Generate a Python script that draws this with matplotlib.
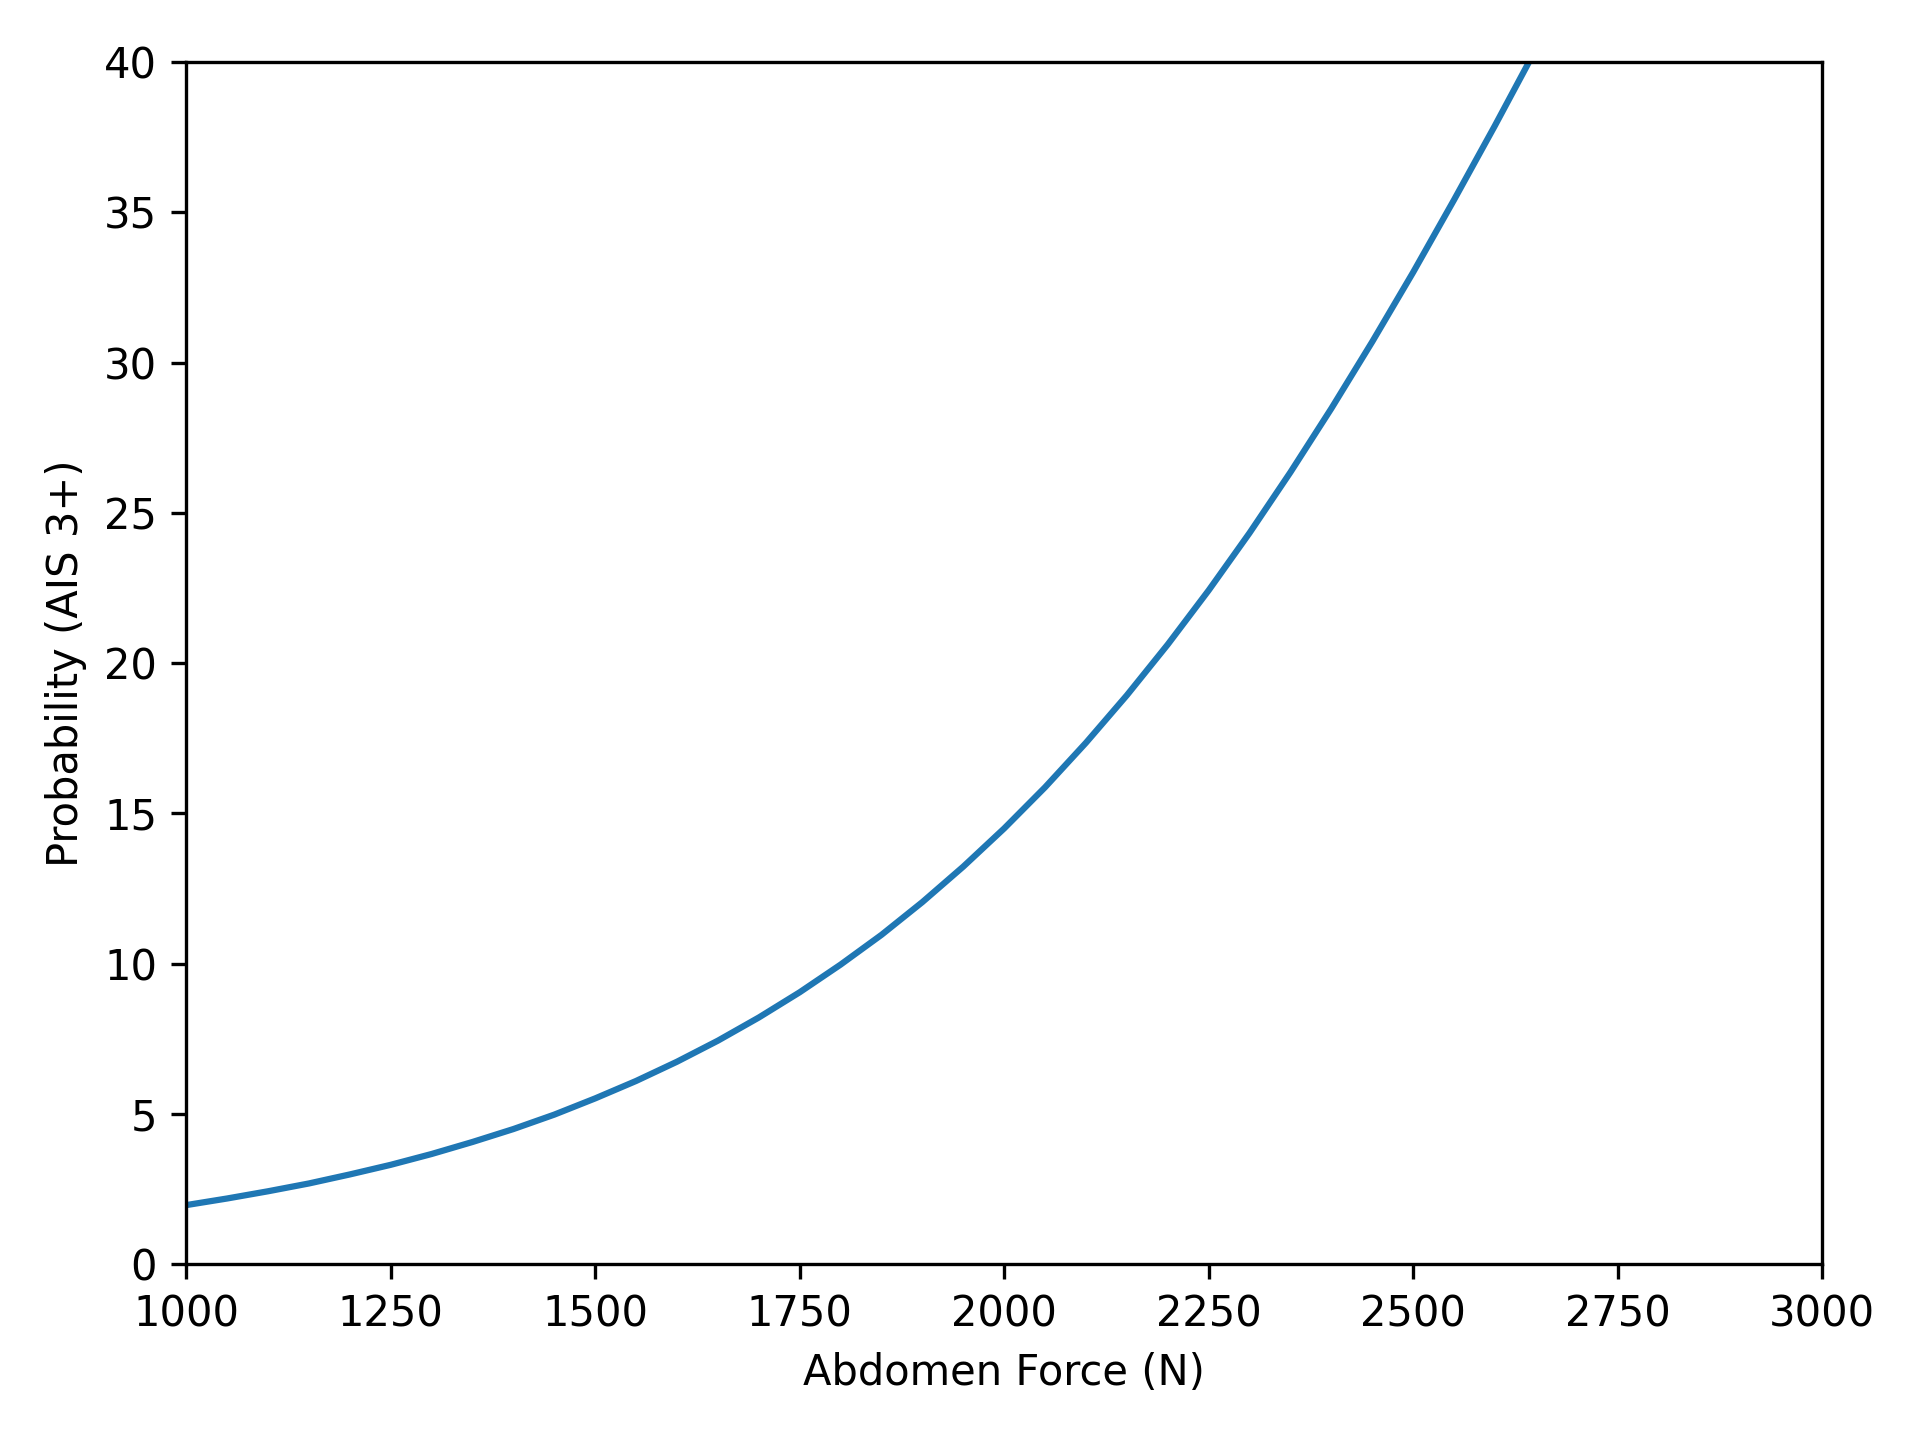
import matplotlib
matplotlib.use('Agg')
import matplotlib.pyplot as plt

# values
force = [1000, 1050, 1100, 1150, 1200, 1250, 1300, 1350, 1400, 1450, 1500,
         1550, 1600, 1650, 1700, 1750, 1800, 1850, 1900, 1950, 2000,
         2050, 2100, 2150, 2200, 2250, 2300, 2350, 2400, 2450, 2500,
         2550, 2600, 2650, 2700]
prob = [1.97, 2.19, 2.43, 2.69, 2.99, 3.31, 3.67, 4.07, 4.50, 4.98, 5.52,
        6.10, 6.74, 7.44, 8.21, 9.05, 9.97, 10.96, 12.05, 13.23, 14.50,
        15.87, 17.35, 18.93, 20.62, 22.42, 24.33, 26.35, 28.47, 30.69, 33.00,
        35.41, 37.88, 40.42, 43.02]

fig = plt.figure(figsize=(6.4, 4.8), dpi=300)
ax = fig.add_subplot(111)
fig.subplots_adjust(left=0.097, right=0.949, bottom=0.122, top=0.957)

ax.plot(force, prob, color='#1f77b4')
ax.set_xlim(1000, 3000)
ax.set_ylim(0, 40)
ax.set_xlabel('Abdomen Force (N)')
ax.set_ylabel('Probability (AIS 3+)')

fig.savefig('out.png', dpi=300)
